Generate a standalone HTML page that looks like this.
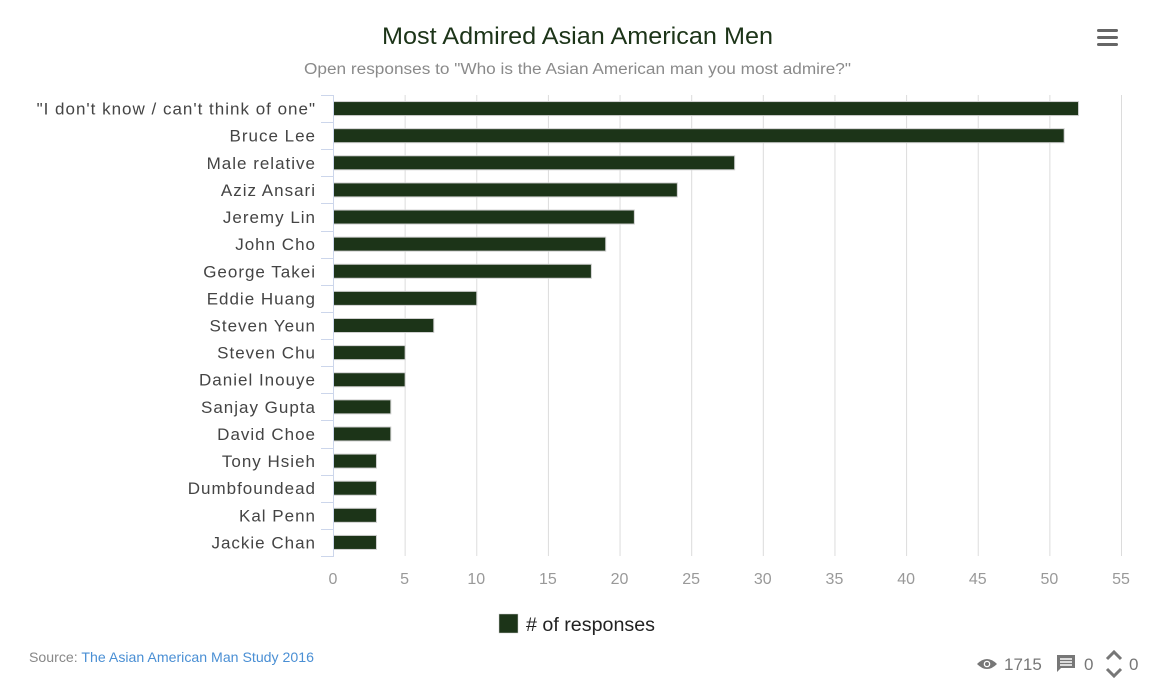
<!DOCTYPE html>
<html><head><meta charset="utf-8"><style>
body{margin:0;background:#fff;}
svg{display:block;font-family:"Liberation Sans",sans-serif;}
</style></head><body>
<svg width="1160" height="689" viewBox="0 0 1160 689" xmlns="http://www.w3.org/2000/svg">
<rect width="1160" height="689" fill="#fff"/>
<text x="382" y="44" textLength="391" lengthAdjust="spacingAndGlyphs" font-size="24" fill="#1c3418">Most Admired Asian American Men</text>
<text x="304" y="74" textLength="547" lengthAdjust="spacingAndGlyphs" font-size="15.5" fill="#8a8a8a">Open responses to "Who is the Asian American man you most admire?"</text>
<g fill="#666"><rect x="1097" y="29" width="21" height="3" rx="1.5"/><rect x="1097" y="36" width="21" height="3" rx="1.5"/><rect x="1097" y="43" width="21" height="3" rx="1.5"/></g>
<g id="grid" stroke="#dcdcdc" stroke-width="1"></g>
<g id="bars"></g>
<g id="labels" font-size="17" fill="#444" text-anchor="end" letter-spacing="1"></g>
<g id="xl" font-size="16" fill="#999" text-anchor="middle"></g>
<line x1="333.5" y1="95" x2="333.5" y2="557" stroke="#ccd6eb"/>
<g id="ticks" stroke="#ccd6eb"></g>
<rect x="499" y="614" width="19" height="19" fill="#1c3418" stroke="#ccc" stroke-width="0.5"/>
<text x="526" y="631" textLength="129" lengthAdjust="spacingAndGlyphs" font-size="19" fill="#222">&#35; of responses</text>
<text x="29" y="662" textLength="285" lengthAdjust="spacingAndGlyphs" font-size="14" fill="#888">Source: <tspan fill="#4a8fd4">The Asian American Man Study 2016</tspan></text>
<g fill="#777">
<path d="M977 664 q10 -10 20 0 q-10 10 -20 0z"/><circle cx="987" cy="664" r="3.3" fill="#fff"/><circle cx="987" cy="664" r="2" fill="#777"/>
<text x="1004" y="670" font-size="17">1715</text>
<path d="M1057 655 h18 v13 h-14 l-4 4z"/><g stroke="#fff" stroke-width="1.5"><line x1="1060" y1="659" x2="1072" y2="659"/><line x1="1060" y1="662" x2="1072" y2="662"/><line x1="1060" y1="665" x2="1072" y2="665"/></g>
<text x="1084" y="670" font-size="17">0</text>
<path d="M1107 659 l7 -7 l7 7" fill="none" stroke="#777" stroke-width="3"/>
<path d="M1107 669 l7 7 l7 -7" fill="none" stroke="#777" stroke-width="3"/>
<text x="1129" y="670" font-size="17">0</text>
</g>
</svg>
<script>
var names=['"I don\'t know / can\'t think of one"','Bruce Lee','Male relative','Aziz Ansari','Jeremy Lin','John Cho','George Takei','Eddie Huang','Steven Yeun','Steven Chu','Daniel Inouye','Sanjay Gupta','David Choe','Tony Hsieh','Dumbfoundead','Kal Penn','Jackie Chan'];
var vals=[52,51,28,24,21,19,18,10,7,5,5,4,4,3,3,3,3];
var ns="http://www.w3.org/2000/svg";
function el(p,t,a,txt){var e=document.createElementNS(ns,t);for(var k in a)e.setAttribute(k,a[k]);if(txt!=null)e.textContent=txt;document.getElementById(p).appendChild(e);}
var s=788/55,y0=95,st=461/17;
for(var v=5;v<=55;v+=5){var x=333.5+v*s;el('grid','line',{x1:x,y1:95,x2:x,y2:556});}
for(var v=0;v<=55;v+=5){el('xl','text',{x:333+v*s,y:584},String(v));}
for(var i=0;i<=17;i++){var y=Math.round(y0+i*st)+0.5;el('ticks','line',{x1:321,y1:y,x2:333,y2:y});}
for(var i=0;i<17;i++){var yc=y0+i*st+st/2;
el('bars','rect',{x:333.5,y:yc-7,width:vals[i]*s,height:14,fill:'#1c3418',stroke:'#d0d0d0','stroke-width':1});
el('labels','text',{x:316,y:yc+6},names[i]);}
</script>
</body></html>
